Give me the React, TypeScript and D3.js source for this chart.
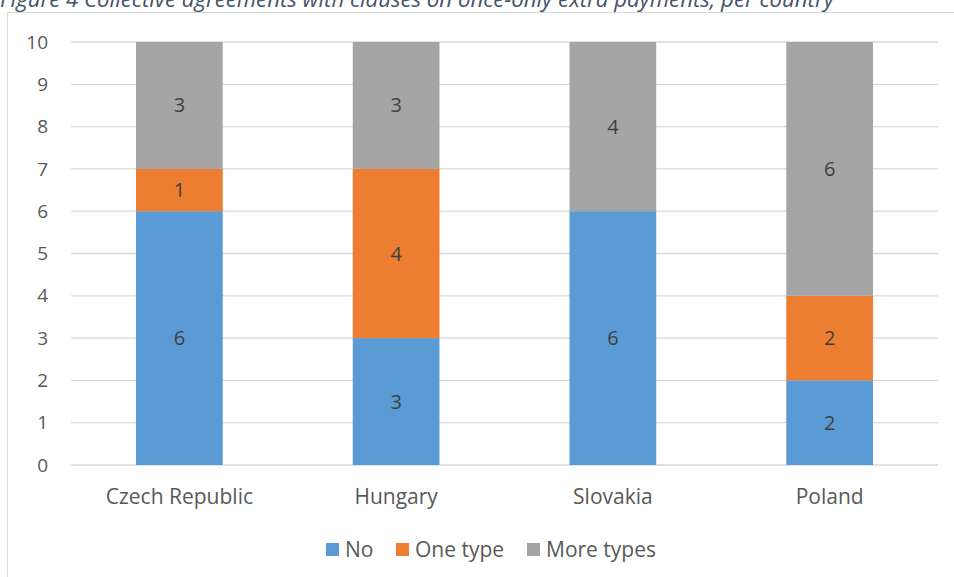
import React from 'react';
import * as d3 from 'd3';

const countries = ['Czech Republic', 'Hungary', 'Slovakia', 'Poland'];
const seriesNames = ['No', 'One type', 'More types'];
const noValues = [6, 3, 6, 2];
const oneTypeValues = [1, 4, 0, 2];
const moreTypesValues = [3, 3, 4, 6];
const yTicks = [0, 1, 2, 3, 4, 5, 6, 7, 8, 9, 10];
const colors = ['#5B9BD5', '#ED7D31', '#A5A5A5'];
const title = 'Figure 4 Collective agreements with clauses on once-only extra payments, per country';

const W = 954;
const H = 577;
const font = '"Open Sans", "Noto Sans", sans-serif';

export default function App() {
  const x = d3.scaleBand().domain(countries).range([71, 938]).paddingInner(0.6).paddingOuter(0.3);
  const y = d3.scaleLinear().domain([0, 10]).range([465, 42]);

  // rows for d3.stack
  const rows = countries.map((c, i) => ({
    country: c,
    No: noValues[i],
    'One type': oneTypeValues[i],
    'More types': moreTypesValues[i],
  }));
  const stacked = d3.stack<any>().keys(seriesNames)(rows);

  const legendX = [326, 396, 527];

  return (
    <svg width={W} height={H} style={{ position: 'absolute', left: 0, top: 0, background: '#fff' }}>
      <rect x={0} y={0} width={W} height={H} fill="#fff" />
      <text x={0} y={7} fontFamily={font} fontStyle="italic" fontSize={22.2} fill="#44546A">{title}</text>
      {/* chart frame */}
      <rect x={7.5} y={12.5} width={W + 10} height={H + 10} fill="none" stroke="#D9D9D9" strokeWidth={1} />

      {/* grid */}
      <g>
        {yTicks.map(t => (
          <g key={t}>
            <line x1={71} x2={938} y1={y(t)} y2={y(t)} stroke="#D9D9D9" strokeWidth={1.3} />
            <text x={48} y={y(t)} dy="0.35em" textAnchor="end" fontFamily={font} fontSize={19} fill="#595959">{t}</text>
          </g>
        ))}
      </g>

      {/* bars */}
      {stacked.map((s, si) => (
        <g key={s.key} fill={colors[si]}>
          {s.map((d, i) => {
            const v = d[1] - d[0];
            if (v <= 0) return null;
            return (
              <g key={i}>
                <rect x={x(countries[i])} y={y(d[1])} width={x.bandwidth()} height={y(d[0]) - y(d[1])} />
                <text
                  x={(x(countries[i]) as number) + x.bandwidth() / 2}
                  y={(y(d[0]) + y(d[1])) / 2}
                  dy="0.35em"
                  textAnchor="middle"
                  fontFamily={font}
                  fontSize={20}
                  fill="#404040"
                >{v}</text>
              </g>
            );
          })}
        </g>
      ))}

      {/* category labels */}
      {countries.map(c => (
        <text key={c} x={(x(c) as number) + x.bandwidth() / 2} y={497} dy="0.35em" textAnchor="middle" fontFamily={font} fontSize={21} fill="#595959">{c}</text>
      ))}

      {/* legend */}
      {seriesNames.map((n, i) => (
        <g key={n}>
          <rect x={legendX[i]} y={543} width={13} height={13} fill={colors[i]} />
          <text x={legendX[i] + 19} y={550} dy="0.35em" fontFamily={font} fontSize={21} fill="#595959">{n}</text>
        </g>
      ))}
    </svg>
  );
}
